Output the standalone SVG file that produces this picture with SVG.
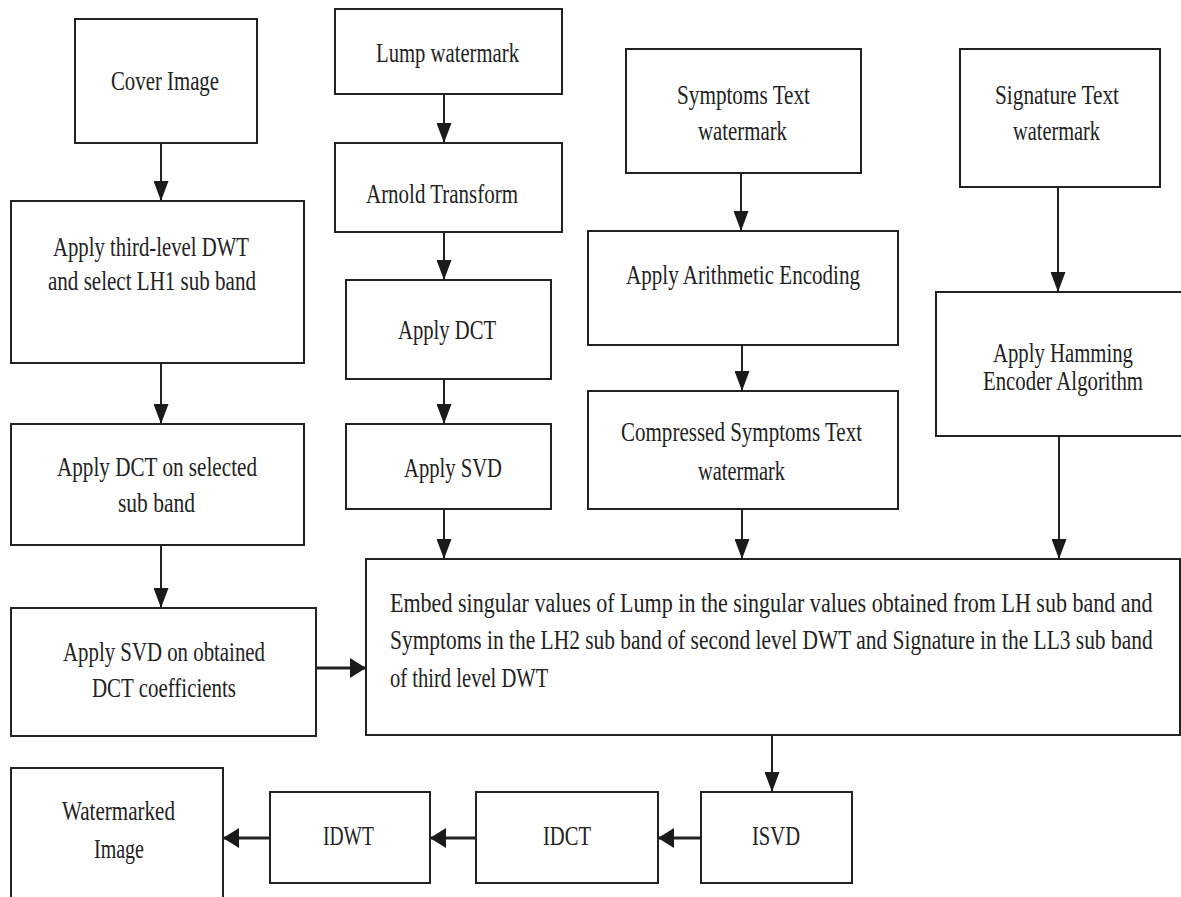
<svg xmlns="http://www.w3.org/2000/svg" width="1181" height="897" viewBox="0 0 1181 897">
<defs>
<marker id="av" markerUnits="userSpaceOnUse" markerWidth="20" markerHeight="15" refX="20" refY="7.5" orient="auto"><path d="M0,0 L20,7.5 L0,15 z" fill="#1a1a1a"/></marker>
<marker id="ah" markerUnits="userSpaceOnUse" markerWidth="16" markerHeight="20" refX="16" refY="10" orient="auto"><path d="M0,0 L16,10 L0,20 z" fill="#1a1a1a"/></marker>
<style>
.b{fill:#fff;stroke:#222;stroke-width:2}
.t{font-family:"Liberation Serif","Times New Roman",serif;font-size:27px;fill:#222}
.cv{stroke:#222;stroke-width:2;fill:none;marker-end:url(#av)}
.ch{stroke:#222;stroke-width:3.2;fill:none;marker-end:url(#ah)}
</style>
</defs>
<rect width="1181" height="897" fill="#fff"/>
<g id="connectors">
<line class="cv" x1="161" y1="143" x2="161" y2="201"/>
<line class="cv" x1="161" y1="363" x2="161" y2="424"/>
<line class="cv" x1="161" y1="545" x2="161" y2="608"/>
<line class="cv" x1="444" y1="94" x2="444" y2="143"/>
<line class="cv" x1="444" y1="232" x2="444" y2="280"/>
<line class="cv" x1="444" y1="379" x2="444" y2="424"/>
<line class="cv" x1="444" y1="509" x2="444" y2="559"/>
<line class="cv" x1="741" y1="173" x2="741" y2="231"/>
<line class="cv" x1="742" y1="345" x2="742" y2="391"/>
<line class="cv" x1="742" y1="509" x2="742" y2="559"/>
<line class="cv" x1="1058" y1="187" x2="1058" y2="292"/>
<line class="cv" x1="1059" y1="436" x2="1059" y2="559"/>
<line class="cv" x1="772" y1="735" x2="772" y2="792"/>
<line class="ch" x1="316" y1="668" x2="366" y2="668"/>
<line class="ch" x1="701" y1="838" x2="658" y2="838"/>
<line class="ch" x1="476" y1="838" x2="430" y2="838"/>
<line class="ch" x1="270" y1="838" x2="223" y2="838"/>
</g>
<g id="cover"><rect class="b" x="75" y="19" width="182" height="124"/><text class="t" x="111" y="90" textLength="108" lengthAdjust="spacingAndGlyphs">Cover Image</text></g>
<g id="dwt"><rect class="b" x="11" y="201" width="293" height="162"/><text class="t" x="53" y="256" textLength="196" lengthAdjust="spacingAndGlyphs">Apply third-level DWT</text><text class="t" x="48" y="290" textLength="208" lengthAdjust="spacingAndGlyphs">and select LH1 sub band</text></g>
<g id="dct1"><rect class="b" x="11" y="424" width="293" height="121"/><text class="t" x="57" y="476" textLength="200" lengthAdjust="spacingAndGlyphs">Apply DCT on selected</text><text class="t" x="118" y="512" textLength="77" lengthAdjust="spacingAndGlyphs">sub band</text></g>
<g id="svd1"><rect class="b" x="11" y="608" width="305" height="128"/><text class="t" x="63" y="661" textLength="202" lengthAdjust="spacingAndGlyphs">Apply SVD on obtained</text><text class="t" x="92" y="697" textLength="144" lengthAdjust="spacingAndGlyphs">DCT coefficients</text></g>
<g id="watermarked"><rect class="b" x="11" y="768" width="212" height="140"/><text class="t" x="62" y="820" textLength="113" lengthAdjust="spacingAndGlyphs">Watermarked</text><text class="t" x="94" y="858" textLength="50" lengthAdjust="spacingAndGlyphs">Image</text></g>
<g id="idwt"><rect class="b" x="270" y="792" width="160" height="91"/><text class="t" x="323" y="845" textLength="51" lengthAdjust="spacingAndGlyphs">IDWT</text></g>
<g id="idct"><rect class="b" x="476" y="792" width="182" height="91"/><text class="t" x="543" y="845" textLength="48" lengthAdjust="spacingAndGlyphs">IDCT</text></g>
<g id="isvd"><rect class="b" x="701" y="792" width="151" height="91"/><text class="t" x="752" y="845" textLength="48" lengthAdjust="spacingAndGlyphs">ISVD</text></g>
<g id="lump"><rect class="b" x="335" y="9" width="227" height="85"/><text class="t" x="376" y="62" textLength="143" lengthAdjust="spacingAndGlyphs">Lump watermark</text></g>
<g id="arnold"><rect class="b" x="335" y="143" width="227" height="89"/><text class="t" x="366" y="203" textLength="152" lengthAdjust="spacingAndGlyphs">Arnold Transform</text></g>
<g id="dct2"><rect class="b" x="346" y="280" width="205" height="99"/><text class="t" x="398" y="339" textLength="98" lengthAdjust="spacingAndGlyphs">Apply DCT</text></g>
<g id="svd2"><rect class="b" x="346" y="424" width="205" height="85"/><text class="t" x="404" y="477" textLength="98" lengthAdjust="spacingAndGlyphs">Apply SVD</text></g>
<g id="symptoms"><rect class="b" x="626" y="49" width="235" height="124"/><text class="t" x="677" y="104" textLength="133" lengthAdjust="spacingAndGlyphs">Symptoms Text</text><text class="t" x="698" y="140" textLength="89" lengthAdjust="spacingAndGlyphs">watermark</text></g>
<g id="arith"><rect class="b" x="588" y="231" width="310" height="114"/><text class="t" x="626" y="284" textLength="234" lengthAdjust="spacingAndGlyphs">Apply Arithmetic Encoding</text></g>
<g id="compressed"><rect class="b" x="588" y="391" width="310" height="118"/><text class="t" x="621" y="441" textLength="241" lengthAdjust="spacingAndGlyphs">Compressed Symptoms Text</text><text class="t" x="698" y="480" textLength="87" lengthAdjust="spacingAndGlyphs">watermark</text></g>
<g id="signature"><rect class="b" x="960" y="49" width="200" height="138"/><text class="t" x="995" y="104" textLength="124" lengthAdjust="spacingAndGlyphs">Signature Text</text><text class="t" x="1013" y="140" textLength="87" lengthAdjust="spacingAndGlyphs">watermark</text></g>
<g id="hamming"><rect class="b" x="936" y="292" width="260" height="144"/>
<text class="t" transform="translate(993,362) scale(0.8,1)" textLength="175" lengthAdjust="spacingAndGlyphs">Apply Hamming</text>
<text class="t" transform="translate(983,390) scale(0.8,1)" textLength="200" lengthAdjust="spacingAndGlyphs">Encoder Algorithm</text></g>
<g id="embed"><rect class="b" x="366" y="559" width="814" height="176"/>
<text class="t" transform="translate(390,612) scale(0.82,1)" textLength="930" lengthAdjust="spacingAndGlyphs">Embed singular values of Lump in the singular values obtained from LH sub band and</text>
<text class="t" transform="translate(390,649) scale(0.82,1)" textLength="930" lengthAdjust="spacingAndGlyphs">Symptoms in the LH2 sub band of second level DWT and Signature in the LL3 sub band</text>
<text class="t" transform="translate(390,687) scale(0.82,1)" textLength="193" lengthAdjust="spacingAndGlyphs">of third level DWT</text></g>
</svg>
